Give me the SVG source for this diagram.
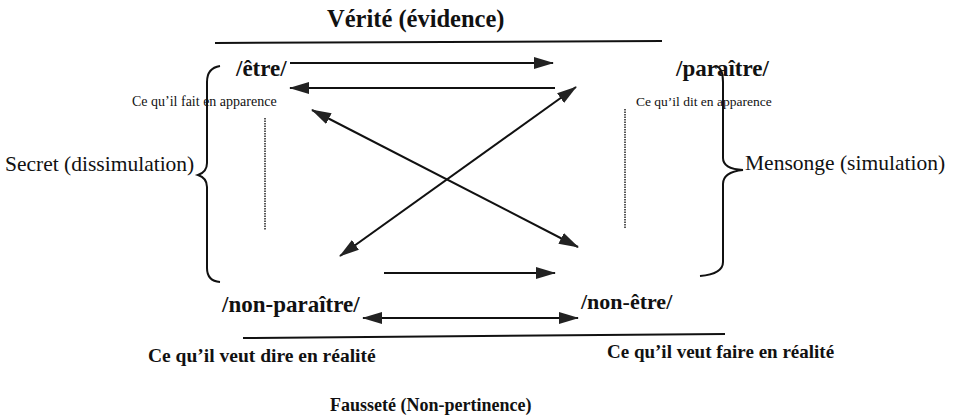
<svg xmlns="http://www.w3.org/2000/svg" width="959" height="417" viewBox="0 0 959 417">
<defs>
<marker id="ah" viewBox="0 0 20 12" refX="19" refY="6" markerWidth="20" markerHeight="12" markerUnits="userSpaceOnUse" orient="auto-start-reverse">
<path d="M0,0 L20,6 L0,12 z" fill="#222"/>
</marker>
<style>
.b{font-family:"Liberation Serif",serif;font-weight:bold;fill:#111}
.r{font-family:"Liberation Serif",serif;fill:#111}
.ln{stroke:#111;stroke-width:2;fill:none}
.ar{stroke:#111;stroke-width:2;fill:none;marker-end:url(#ah)}
.ar2{stroke:#111;stroke-width:2;fill:none;marker-end:url(#ah);marker-start:url(#ah)}
.br{stroke:#111;stroke-width:2;fill:none}
.dt{stroke:#222;stroke-width:1.5;stroke-dasharray:1.5 1;fill:none}
</style>
</defs>
<rect width="959" height="417" fill="#fff"/>
<g id="verite"><text class="b" x="327" y="27" font-size="24.5">Vérité (évidence)</text></g>
<g id="fausseté"><text class="b" x="330" y="411" font-size="18">Fausseté (Non-pertinence)</text></g>
<g id="etre"><text class="b" x="236" y="76" font-size="23">/être/</text></g>
<g id="paraitre"><text class="b" x="676" y="76" font-size="23">/paraître/</text></g>
<g id="non-paraitre"><text class="b" x="222" y="312" font-size="23">/non-paraître/</text></g>
<g id="non-etre"><text class="b" x="581" y="309" font-size="22">/non-être/</text></g>
<g id="fait-apparence"><text class="r" x="132" y="106" font-size="14">Ce qu’il fait en apparence</text></g>
<g id="dit-apparence"><text class="r" x="636" y="106" font-size="13.5">Ce qu’il dit en apparence</text></g>
<g id="secret"><text class="r" x="5" y="171" font-size="21.5">Secret (dissimulation)</text></g>
<g id="mensonge"><text class="r" x="745" y="170" font-size="21.5">Mensonge (simulation)</text></g>
<g id="dire-realite"><text class="b" x="148" y="362" font-size="19.5">Ce qu’il veut dire en réalité</text></g>
<g id="faire-realite"><text class="b" x="607" y="358" font-size="19">Ce qu’il veut faire en réalité</text></g>
<g id="connectors">
<path class="ln" d="M215,43 L662,41"/>
<path class="ln" d="M243,338 L725,334"/>
<path class="ar" d="M290,63 L553,63"/>
<path class="ar" d="M555,88 L290,88"/>
<path class="ar2" d="M340,256 L576,87"/>
<path class="ar2" d="M312,110 L578,247"/>
<path class="ar" d="M384,273 L555,273"/>
<path class="ar2" d="M363,318 L578,318"/>
<path class="br" d="M220,66 Q207,68 207,82 L207,163 Q207,172 198,175 Q207,178 207,187 L207,268 Q207,281 220,282"/>
<path class="br" d="M716,66 Q723,68 723,82 L723,158 Q723,169 743,170 Q723,172 723,184 L723,262 Q723,274 700,276"/>
<path class="dt" d="M265,118 L265,230"/>
<path class="dt" d="M625,109 L625,228"/>
</g>
</svg>
